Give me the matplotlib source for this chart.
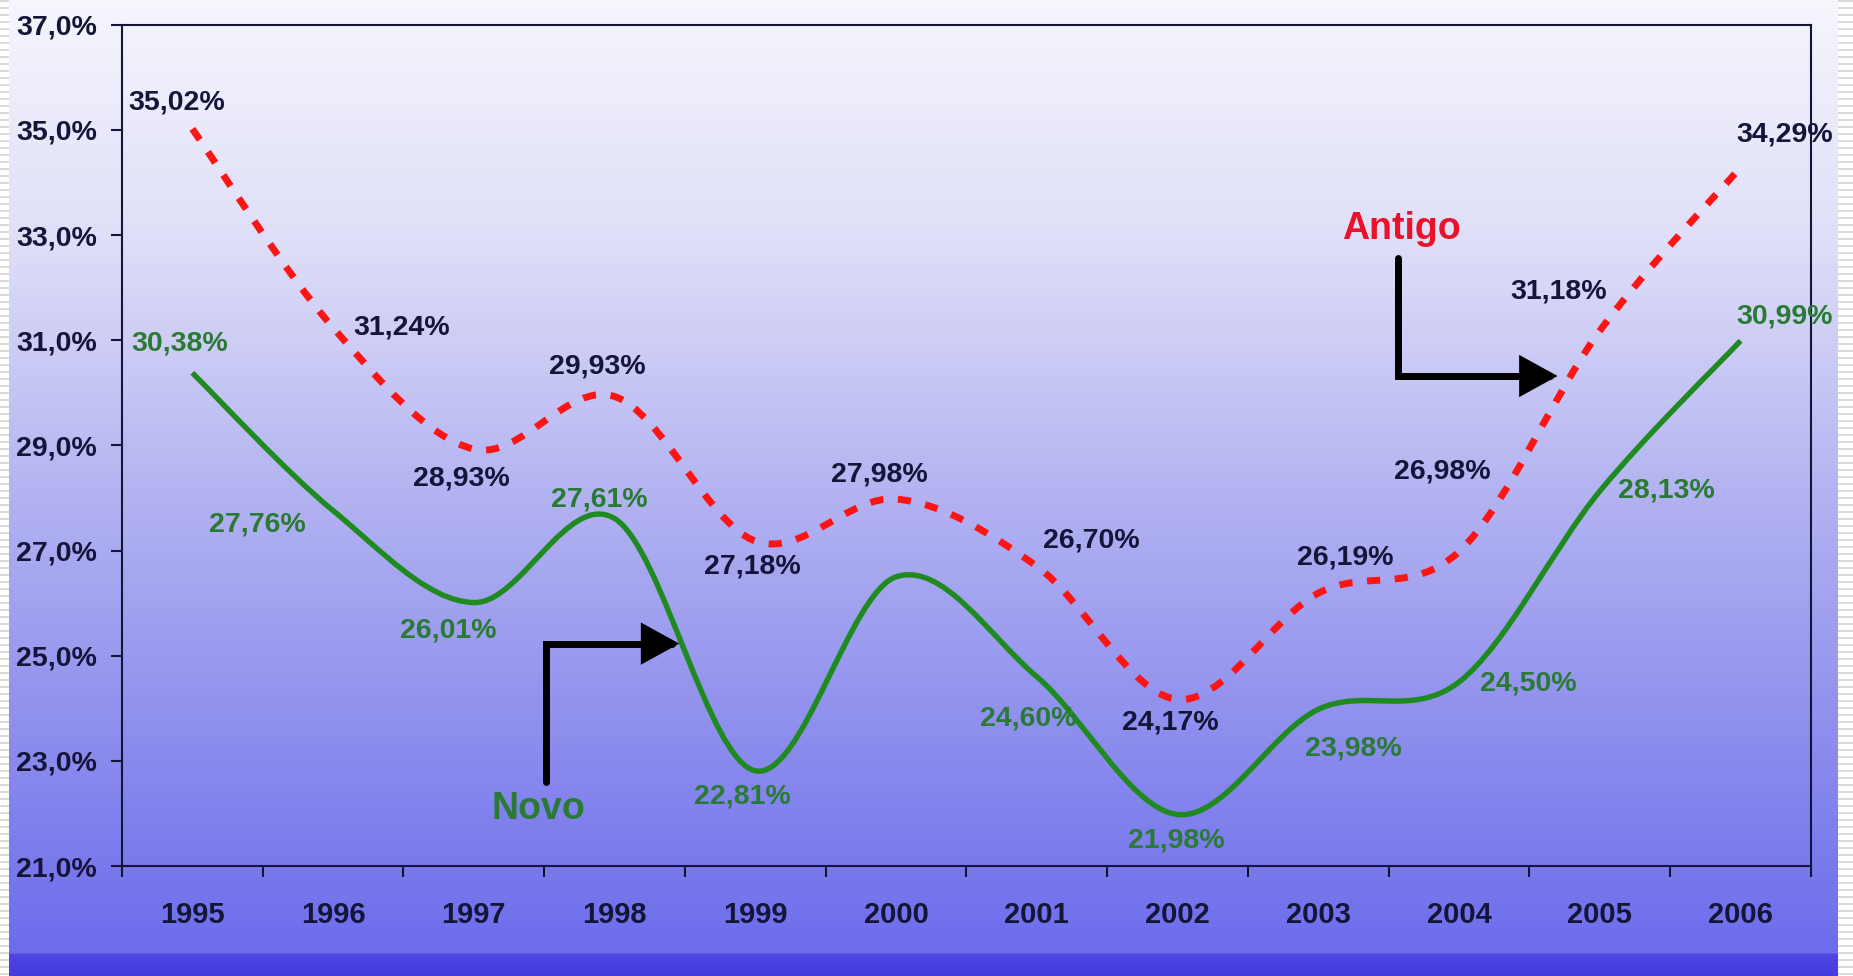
import numpy as np
import matplotlib
matplotlib.use("Agg")
import matplotlib.pyplot as plt
from matplotlib.path import Path
from matplotlib.patches import PathPatch, FancyArrowPatch

plt.rcParams['font.family'] = ['Liberation Sans', 'DejaVu Sans']
plt.rcParams['font.weight'] = 'bold'

# dados
anos = ['1995', '1996', '1997', '1998', '1999', '2000',
        '2001', '2002', '2003', '2004', '2005', '2006']
antigo = [35.02, 31.24, 28.93, 29.93, 27.18, 27.98,
          26.70, 24.17, 26.19, 26.98, 31.18, 34.29]
novo = [30.38, 27.76, 26.01, 27.61, 22.81, 26.50,
        24.60, 21.98, 23.98, 24.50, 28.13, 30.99]
# 2000 do novo nao tem rotulo no grafico
novo_rotulo = [True, True, True, True, True, False,
               True, True, True, True, True, True]
ticks_y = [21, 23, 25, 27, 29, 31, 33, 35, 37]

# posicoes dos rotulos (x em categorias, y em %)
pos_antigo = [(-0.11, 35.52), (1.49, 31.25), (1.91, 28.37), (2.88, 30.51),
              (3.98, 26.69), (4.88, 28.44), (6.39, 27.20), (6.95, 23.72),
              (8.19, 26.87), (8.88, 28.51), (9.71, 31.92), (11.31, 34.91)]
pos_novo = [(-0.09, 30.93), (0.46, 27.50), (1.82, 25.47), (2.89, 27.97),
            (3.91, 22.33), (4.9, 26.9), (5.94, 23.81), (6.99, 21.48),
            (8.25, 23.23), (9.49, 24.48), (10.47, 28.15), (11.31, 31.45)]

vermelho = '#ff1414'
verde = '#1f8a1f'
verde_txt = '#2a7a35'
escuro = '#15153a'


def curva_suave(xs, ys):
    # bezier no estilo da linha suavizada do excel
    pts = list(zip(xs, ys))
    n = len(pts)
    verts = [pts[0]]
    codes = [Path.MOVETO]
    for i in range(n - 1):
        p0 = pts[i - 1] if i > 0 else pts[i]
        p1 = pts[i]
        p2 = pts[i + 1]
        p3 = pts[i + 2] if i + 2 < n else pts[i + 1]
        c1 = (p1[0] + (p2[0] - p0[0]) / 6, p1[1] + (p2[1] - p0[1]) / 6)
        c2 = (p2[0] - (p3[0] - p1[0]) / 6, p2[1] - (p3[1] - p1[1]) / 6)
        verts += [c1, c2, p2]
        codes += [Path.CURVE4] * 3
    return Path(verts, codes)


fig = plt.figure(figsize=(18.53, 9.76), dpi=100)

# fundo degrade
bg = fig.add_axes([0, 0, 1, 1])
paradas = [0.0, 0.25, 0.5, 0.75, 0.977, 0.978, 1.0]
cores = np.array([(246, 246, 253), (222, 222, 248), (180, 180, 242),
                  (142, 142, 238), (108, 108, 236), (80, 70, 226),
                  (70, 60, 222)]) / 255.0
yy = np.linspace(0, 1, 976)
grad = np.stack([np.interp(yy, paradas, cores[:, c]) for c in range(3)], axis=-1)
bg.imshow(grad[:, None, :], aspect='auto', extent=[0, 1, 1, 0])
bg.set_xlim(0, 1)
bg.set_ylim(1, 0)
bg.axis('off')

# listras nas bordas
listra = np.where((np.arange(976) % 7) < 2, 0.86, 1.0)
listra = np.repeat(listra[:, None, None], 3, axis=2)
for x0, w in [(0, 9 / 1853), (1838 / 1853, 15 / 1853)]:
    a = fig.add_axes([x0, 0, w, 1])
    a.imshow(listra, aspect='auto', interpolation='nearest')
    a.axis('off')

ax = fig.add_axes([0.0658, 0.1127, 0.9115, 0.8619])
ax.set_facecolor('none')
x = np.arange(len(anos))

ax.add_patch(PathPatch(curva_suave(x, antigo), fill=False, edgecolor=vermelho,
                       lw=5, linestyle=(0, (1.9, 2.1)), capstyle='butt', zorder=3))
ax.add_patch(PathPatch(curva_suave(x, novo), fill=False, edgecolor=verde,
                       lw=3.9, zorder=3))

for v, (px, py) in zip(antigo, pos_antigo):
    ax.text(px, py, f"{v:.2f}".replace('.', ',') + '%', ha='center', va='center',
            fontsize=20.5, fontweight='bold', color=escuro, zorder=5)
for v, ok, (px, py) in zip(novo, novo_rotulo, pos_novo):
    if ok:
        ax.text(px, py, f"{v:.2f}".replace('.', ',') + '%', ha='center', va='center',
                fontsize=20.5, fontweight='bold', color=verde_txt, zorder=5)

# setas e legendas
ax.text(8.59, 33.12, 'Antigo', ha='center', va='center', fontsize=27,
        fontweight='bold', color='#e8132a')
ax.text(2.46, 22.08, 'Novo', ha='center', va='center', fontsize=27,
        fontweight='bold', color=verde_txt)
estilo = '-|>,head_length=20,head_width=11'
ax.add_patch(FancyArrowPatch(path=Path([(8.566, 32.57), (8.566, 30.32), (9.70, 30.32)]),
                             arrowstyle=estilo, mutation_scale=1, lw=5,
                             color='black', joinstyle='miter', zorder=4))
ax.add_patch(FancyArrowPatch(path=Path([(2.512, 22.60), (2.512, 25.23), (3.46, 25.23)]),
                             arrowstyle=estilo, mutation_scale=1, lw=5,
                             color='black', joinstyle='miter', zorder=4))

ax.set_xlim(-0.5, len(anos) - 0.5)
ax.set_ylim(21, 37)
ax.set_yticks(ticks_y)
ax.set_yticklabels([f"{t:.1f}".replace('.', ',') + '%' for t in ticks_y])
ax.set_xticks(x)
ax.set_xticklabels(anos)
ax.set_xticks(np.arange(-0.5, len(anos), 1), minor=True)
ax.tick_params(axis='x', which='major', length=0, pad=25, labelsize=21, labelcolor=escuro)
ax.tick_params(axis='x', which='minor', length=8, width=1.5, color=escuro, direction='out')
ax.tick_params(axis='y', length=8, width=1.5, color=escuro, pad=10, labelsize=20.5,
               labelcolor=escuro)
for lb in ax.get_xticklabels() + ax.get_yticklabels():
    lb.set_fontweight('bold')
for s in ax.spines.values():
    s.set_color(escuro)
    s.set_linewidth(1.5)

fig.savefig('out.png', dpi=100)
